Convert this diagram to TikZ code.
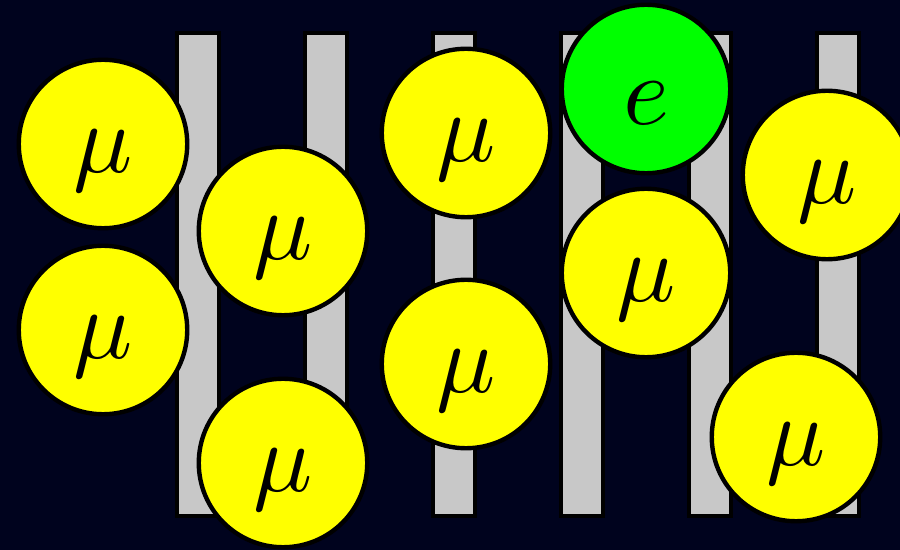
\documentclass[tikz,border=0pt]{standalone}
\definecolor{bgnavy}{RGB}{0,3,30}
\definecolor{barg}{RGB}{200,200,200}
\definecolor{ballyellow}{RGB}{255,255,0}
\definecolor{ballgreen}{RGB}{0,255,0}
\tikzset{
  barbox/.style={draw=black,fill=barg,line width=2.4pt},
  ball/.style={circle,draw=black,line width=2.5pt,minimum size=3.37cm,inner sep=0pt},
  muon/.style={ball,fill=ballyellow},
  elec/.style={ball,fill=ballgreen},
  sym/.style={inner sep=0pt,font=\normalsize,scale=5.6,transform shape}
}
\begin{document}
\begin{tikzpicture}[x=0.02cm,y=-0.02cm]
\useasboundingbox (0,0) rectangle (900,550);
\clip (0,0) rectangle (900,550);
\fill[bgnavy] (0,0) rectangle (900,550);
% bars
\foreach \cx [count=\i] in {198,326,454,582,710,838}{
  \draw[barbox] (\cx-21,33) rectangle (\cx+21,516);
}
% balls
\node[muon] (m1) at (103,144) {};
\node[muon] (m2) at (103,330) {};
\node[muon] (m3) at (283,231) {};
\node[muon] (m4) at (283,463) {};
\node[muon] (m5) at (466,133) {};
\node[muon] (m6) at (466,364) {};
\node[elec] (e1) at (646,89) {};
\node[muon] (m8) at (646,273) {};
\node[muon] (m9) at (827,175) {};
\node[muon] (m10) at (796,437) {};
% labels
\foreach \n in {m1,m2,m3,m4,m5,m6,m8,m9,m10}{
  \node[sym] (\n t) at ([yshift=-0.33cm]\n.center) {$\mu$};
}
\node[sym] (e1t) at ([yshift=-0.28cm]e1.center) {$e$};
\end{tikzpicture}
\end{document}
